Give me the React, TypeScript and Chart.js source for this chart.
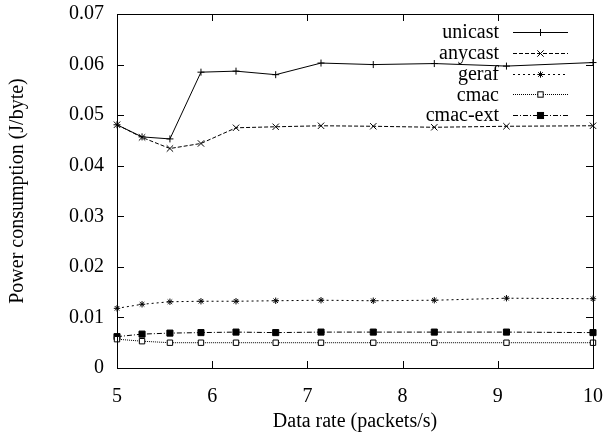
import React, { useEffect, useRef } from 'react';
import { Chart, registerables } from 'chart.js';

Chart.register(...registerables);

const rates = [5, 5.263, 5.556, 5.882, 6.25, 6.667, 7.143, 7.692, 8.333, 9.091, 10];
const unicast = [0.0481, 0.0457, 0.0453, 0.0585, 0.0587, 0.058, 0.0603, 0.06, 0.0602, 0.0597, 0.0604];
const anycast = [0.0481, 0.0456, 0.0434, 0.0444, 0.0475, 0.0477, 0.0479, 0.0478, 0.0476, 0.0478, 0.0479];
const geraf = [0.0118, 0.0126, 0.0131, 0.0132, 0.0132, 0.0133, 0.0134, 0.0133, 0.0134, 0.0138, 0.0137];
const cmac = [0.0057, 0.0053, 0.005, 0.005, 0.005, 0.005, 0.005, 0.005, 0.005, 0.005, 0.005];
const cmacExt = [0.0062, 0.0067, 0.0069, 0.007, 0.0071, 0.007, 0.0071, 0.0071, 0.0071, 0.0071, 0.007];
const seriesNames = ['unicast', 'anycast', 'geraf', 'cmac', 'cmac-ext'];
const xTickValues = [5, 6, 7, 8, 9, 10];
const yTickValues = [0, 0.01, 0.02, 0.03, 0.04, 0.05, 0.06, 0.07];

const FONT = "'Liberation Serif', 'Times New Roman', serif";

const styles = [
  { dash: [], point: 'cross', r: 3.5, bg: '#000' },
  { dash: [4, 2], point: 'crossRot', r: 4.5, bg: '#000' },
  { dash: [2, 3], point: 'star', r: 3.2, bg: '#000' },
  { dash: [1, 1], point: 'rect', r: 3.8, bg: '#fff' },
  { dash: [5, 2, 1, 2], point: 'rect', r: 4.3, bg: '#000' },
];

function drawMarker(ctx: CanvasRenderingContext2D, kind: string, x: number, y: number, r: number, bg: string) {
  ctx.save();
  ctx.setLineDash([]);
  ctx.strokeStyle = '#000';
  ctx.lineWidth = 1;
  ctx.beginPath();
  if (kind === 'cross' || kind === 'star') {
    ctx.moveTo(x - r, y); ctx.lineTo(x + r, y);
    ctx.moveTo(x, y - r); ctx.lineTo(x, y + r);
  }
  if (kind === 'crossRot' || kind === 'star') {
    const d = r * Math.SQRT1_2;
    ctx.moveTo(x - d, y - d); ctx.lineTo(x + d, y + d);
    ctx.moveTo(x - d, y + d); ctx.lineTo(x + d, y - d);
  }
  ctx.stroke();
  if (kind === 'rect') {
    const s = r * Math.SQRT1_2;
    ctx.fillStyle = bg;
    ctx.fillRect(x - s, y - s, 2 * s, 2 * s);
    ctx.strokeRect(x - s, y - s, 2 * s, 2 * s);
  }
  ctx.restore();
}

const framePlugin = {
  id: 'gnuFrame',
  afterDatasetsDraw(chart: any) {
    const { ctx, chartArea: a, scales } = chart;
    ctx.save();
    ctx.strokeStyle = '#000';
    ctx.lineWidth = 1;
    ctx.setLineDash([]);
    ctx.strokeRect(Math.round(a.left) + 0.5, Math.round(a.top) + 0.5, Math.round(a.right - a.left), Math.round(a.bottom - a.top));
    const tl = 7;
    ctx.beginPath();
    xTickValues.forEach((v) => {
      const px = Math.round(scales.x.getPixelForValue(v)) + 0.5;
      ctx.moveTo(px, a.bottom); ctx.lineTo(px, a.bottom - tl);
      ctx.moveTo(px, a.top); ctx.lineTo(px, a.top + tl);
    });
    yTickValues.forEach((v) => {
      const py = Math.round(scales.y.getPixelForValue(v)) + 0.5;
      ctx.moveTo(a.left, py); ctx.lineTo(a.left + tl, py);
      ctx.moveTo(a.right, py); ctx.lineTo(a.right - tl, py);
    });
    ctx.stroke();

    // legend
    ctx.font = `20px ${FONT}`;
    ctx.fillStyle = '#000';
    ctx.textAlign = 'right';
    ctx.textBaseline = 'middle';
    seriesNames.forEach((name, i) => {
      const y = a.top + 18 + i * 20.8;
      ctx.fillText(name, a.right - 94, y + 1);
      const st = styles[i];
      ctx.save();
      ctx.setLineDash(st.dash);
      ctx.beginPath();
      ctx.moveTo(a.right - 80, Math.round(y) + 0.5);
      ctx.lineTo(a.right - 25, Math.round(y) + 0.5);
      ctx.stroke();
      ctx.restore();
      drawMarker(ctx, st.point, a.right - 52.5, Math.round(y) + 0.5, st.r, st.bg);
    });
    ctx.restore();
  },
};

const seriesValues = [unicast, anycast, geraf, cmac, cmacExt];

export default function App() {
  const ref = useRef<HTMLCanvasElement>(null);
  useEffect(() => {
    if (!ref.current) return;
    const chart = new Chart(ref.current, {
      type: 'line',
      data: {
        datasets: seriesNames.map((name, i) => ({
          label: name,
          data: rates.map((x, j) => ({ x, y: seriesValues[i][j] })),
          borderColor: '#000',
          backgroundColor: styles[i].bg,
          pointBorderColor: '#000',
          pointBackgroundColor: styles[i].bg,
          borderWidth: 1,
          pointBorderWidth: 1,
          borderDash: styles[i].dash,
          pointStyle: styles[i].point as any,
          pointRadius: styles[i].r,
          tension: 0,
          fill: false,
          clip: false as any,
        })),
      },
      options: {
        animation: false,
        responsive: false,
        layout: { padding: { top: 14, right: 15, left: 0, bottom: 0 } },
        plugins: { legend: { display: false }, tooltip: { enabled: false } },
        scales: {
          x: {
            type: 'linear',
            min: 5,
            max: 10,
            afterBuildTicks: (s: any) => { s.ticks = xTickValues.map((v) => ({ value: v })); },
            afterFit: (s: any) => { s.height = 69; s.paddingLeft = 0; s.paddingRight = 0; },
            grid: { display: false, drawTicks: false },
            border: { display: false },
            ticks: { color: '#000', font: { family: FONT, size: 20 }, padding: 17, maxRotation: 0, callback: (v: any) => String(v) },
            title: { display: true, text: 'Data rate (packets/s)', color: '#000', font: { family: FONT, size: 20 }, padding: { top: 0, bottom: 3 } },
          },
          y: {
            type: 'linear',
            min: 0,
            max: 0.07,
            afterBuildTicks: (s: any) => { s.ticks = yTickValues.map((v) => ({ value: v })); },
            afterFit: (s: any) => { s.width = 117; s.paddingTop = 0; s.paddingBottom = 0; },
            grid: { display: false, drawTicks: false },
            border: { display: false },
            ticks: { color: '#000', font: { family: FONT, size: 20 }, padding: 13, callback: (v: any) => String(Number(Number(v).toFixed(2))) },
            title: { display: true, text: 'Power consumption (J/byte)', color: '#000', font: { family: FONT, size: 20 }, padding: { top: 6, bottom: 0 } },
          },
        },
      },
      plugins: [framePlugin],
    });
    return () => chart.destroy();
  }, []);
  return (
    <div style={{ position: 'absolute', left: 0, top: 0, width: 608, height: 437, background: '#fff' }}>
      <canvas ref={ref} width={608} height={437} style={{ display: 'block' }} />
    </div>
  );
}
